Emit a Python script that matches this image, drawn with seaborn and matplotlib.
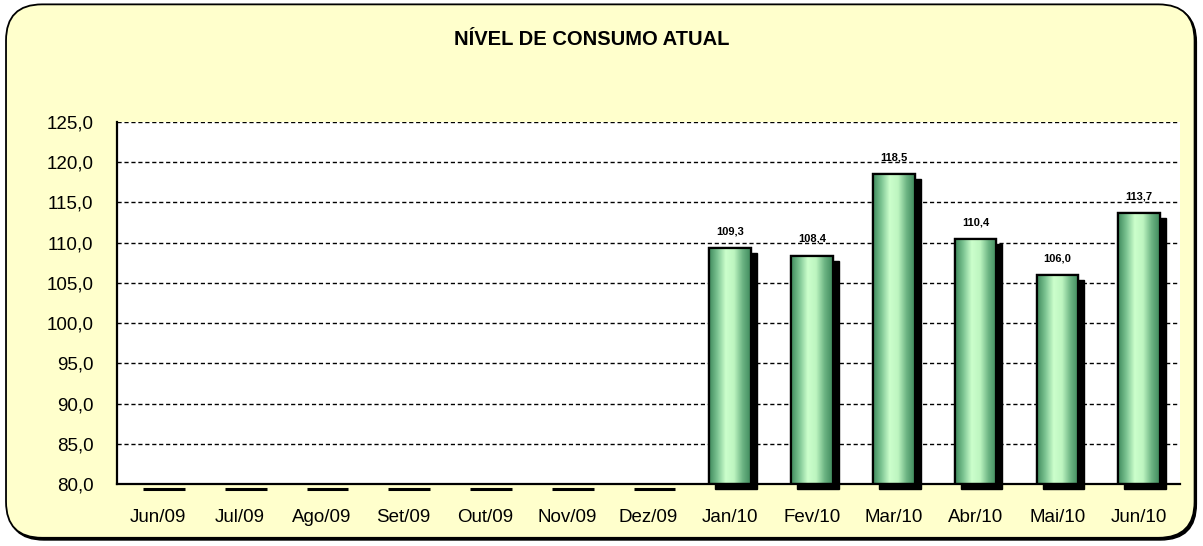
import matplotlib
matplotlib.use("Agg")
import matplotlib.pyplot as plt
import matplotlib.transforms as mtransforms
from matplotlib.patches import FancyBboxPatch, Rectangle
from matplotlib.colors import LinearSegmentedColormap
import numpy as np
import pandas as pd
import seaborn as sns

months = ["Jun/09", "Jul/09", "Ago/09", "Set/09", "Out/09", "Nov/09", "Dez/09",
          "Jan/10", "Fev/10", "Mar/10", "Abr/10", "Mai/10", "Jun/10"]
values = [0, 0, 0, 0, 0, 0, 0, 109.3, 108.4, 118.5, 110.4, 106.0, 113.7]
yticks = [80, 85, 90, 95, 100, 105, 110, 115, 120, 125]
title = "NÍVEL DE CONSUMO ATUAL"

sns.set_theme(style="white")
plt.rcParams["font.family"] = ["Liberation Sans", "DejaVu Sans"]
plt.rcParams["text.color"] = "black"
plt.rcParams["xtick.color"] = "black"
plt.rcParams["ytick.color"] = "black"
plt.rcParams["xtick.labelcolor"] = "black"
plt.rcParams["ytick.labelcolor"] = "black"

df = pd.DataFrame({"mes": months, "valor": values})

fig = plt.figure(figsize=(12.03, 5.46), dpi=100)
fig.patch.set_facecolor("white")

# rounded background panel with small shadow
shadow_box = FancyBboxPatch((0.0065, 0.011), 0.988, 0.978, boxstyle="round,pad=0,rounding_size=0.03",
                            transform=fig.transFigure, facecolor="black", edgecolor="black",
                            mutation_aspect=1203/546, zorder=0)
fig.patches.append(shadow_box)
box = FancyBboxPatch((0.005, 0.015), 0.988, 0.977, boxstyle="round,pad=0,rounding_size=0.03",
                     transform=fig.transFigure, facecolor="#FFFFCC", edgecolor="black",
                     linewidth=1.3, mutation_aspect=1203/546, zorder=1)
fig.patches.append(box)

ax = fig.add_axes([0.0973, 0.1136, 0.8836, 0.663])
ax.set_zorder(2)
ax.set_facecolor("white")

sns.barplot(data=df, x="mes", y="valor", ax=ax, width=0.51, color="#9FE0A8",
            edgecolor="black", linewidth=1.6, zorder=3)

ax.set_ylim(80, 125)
ax.set_xlim(-0.5, len(months) - 0.5)
ax.set_yticks(yticks)
ax.set_yticklabels([f"{v:.1f}".replace(".", ",") for v in yticks], fontsize=13.5, color="black")
ax.set_xticks(range(len(months)))
ax.set_xticklabels(months, fontsize=13.5, color="black")
ax.set_xticks(np.arange(-0.5, len(months), 1.0), minor=True)
ax.tick_params(axis="x", which="major", length=0, pad=18)
ax.tick_params(axis="x", which="minor", length=5, width=1.2, direction="out", color="black")
ax.tick_params(axis="y", length=5, width=1.2, direction="out", color="black", pad=12)
ax.set_xlabel("")
ax.set_ylabel("")
ax.yaxis.grid(True, color="black", linestyle=(0, (3, 2)), linewidth=1.0)
ax.set_axisbelow(True)
for s in ["top", "right"]:
    ax.spines[s].set_visible(False)
for s in ["left", "bottom"]:
    ax.spines[s].set_color("black")
    ax.spines[s].set_linewidth(1.6)
ax.spines["bottom"].set_zorder(6)

cmap = LinearSegmentedColormap.from_list(
    "g", ["#3F8A5C", "#7CC492", "#CCFFCC", "#BDF5C0", "#6DB584", "#3F8A5C"])
grad = np.linspace(0, 1, 256).reshape(1, -1)

shadow_off = mtransforms.ScaledTranslation(6 / 100, -5 / 100, fig.dpi_scale_trans)
for patch, v in zip(ax.patches, values):
    x0 = patch.get_x()
    w = patch.get_width()
    if v > 0:
        sh = Rectangle((x0, 80), w, v - 80, facecolor="black", edgecolor="black",
                       transform=ax.transData + shadow_off, zorder=2.5, clip_on=False)
        ax.add_patch(sh)
        im = ax.imshow(grad, cmap=cmap, aspect="auto", extent=[x0, x0 + w, 80, v],
                       zorder=3.2, interpolation="bilinear")
        im.set_clip_path(patch)
        outline = Rectangle((x0, 80), w, v - 80, facecolor="none", edgecolor="black",
                            linewidth=1.6, zorder=3.5)
        ax.add_patch(outline)
        ax.annotate(f"{v:.1f}".replace(".", ","), (x0 + w / 2, v), xytext=(0, 12),
                    textcoords="offset points", ha="center", va="center",
                    fontsize=8, fontweight="bold", color="black", zorder=5)
    else:
        ax.plot([x0, x0 + w], [80, 80], color="black", linewidth=2.2,
                transform=ax.transData + shadow_off, zorder=2.5, clip_on=False,
                solid_capstyle="butt")

ax.set_xlim(-0.5, len(months) - 0.5)
ax.set_ylim(80, 125)

fig.text(0.492, 0.928, title, ha="center", va="center", fontsize=14.5,
         fontweight="bold", color="black")

fig.savefig("out.png", dpi=100)
